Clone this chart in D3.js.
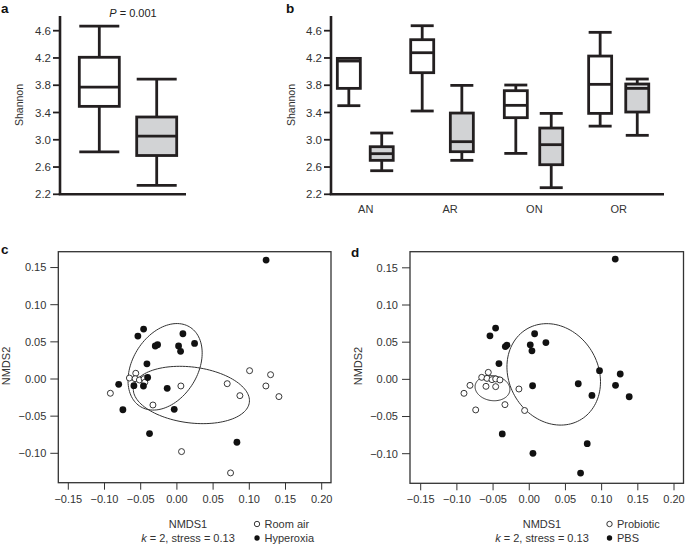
<!DOCTYPE html>
<html><head><meta charset="utf-8">
<script src="https://cdn.jsdelivr.net/npm/d3@7"></script>
<style>
html,body{margin:0;padding:0;background:#fff;}
svg{display:block;font-family:"Liberation Sans",Arial,Helvetica,sans-serif;}
</style></head>
<body>
<svg id="chart" width="685" height="547"></svg>
<script>
// ---------- DATA ----------
const shannonTicks = [2.2, 2.6, 3.0, 3.4, 3.8, 4.2, 4.6];
// panel a: Room air (white) vs Hyperoxia (grey)
const boxA = [
  {min: 2.823, q1: 3.49, median: 3.772, q3: 4.21, max: 4.668},
  {min: 2.331, q1: 2.769, median: 3.052, q3: 3.334, max: 3.889}
];
const boxAAt = [1, 2];
const pText = "0.001";
// panel b
const categoriesB = ["AN", "AR", "ON", "OR"];
const boxB = [
  {min: 3.50, q1: 3.754, median: 4.155, q3: 4.194, max: 4.194},
  {min: 2.546, q1: 2.698, median: 2.796, q3: 2.898, max: 3.099},
  {min: 3.422, q1: 3.984, median: 4.277, q3: 4.468, max: 4.673},
  {min: 2.698, q1: 2.825, median: 2.972, q3: 3.392, max: 3.798},
  {min: 2.80, q1: 3.324, median: 3.505, q3: 3.72, max: 3.803},
  {min: 2.297, q1: 2.634, median: 2.928, q3: 3.172, max: 3.387},
  {min: 3.20, q1: 3.387, median: 3.813, q3: 4.228, max: 4.576},
  {min: 3.065, q1: 3.407, median: 3.754, q3: 3.818, max: 3.891}
];
const boxBAt = [0.80, 1.19, 1.67, 2.14, 2.78, 3.20, 3.78, 4.22];

// NMDS
const nmdsXTicks = [-0.15, -0.10, -0.05, 0.00, 0.05, 0.10, 0.15, 0.20];
const nmdsYTicks = [-0.10, -0.05, 0.00, 0.05, 0.10, 0.15];
const roomAirC = [[-0.0568,0.0077],[-0.0656,0.0013],[-0.0577,0.0004],[-0.0518,-0.0013],[-0.0453,0.0004],[-0.0443,-0.0044],[-0.0919,-0.0192],[0.0055,-0.0094],[-0.0331,-0.035],[0.0695,-0.0063],[0.1004,0.0112],[0.087,-0.0224],[0.1294,0.0058],[0.1229,-0.0094],[0.1409,-0.0237],[0.0064,-0.0977],[0.0741,-0.1264]];
const hyperoxiaC = [[-0.046,0.0672],[-0.0539,0.0578],[-0.0299,0.0444],[-0.0267,0.0461],[0.0083,0.0609],[0.0023,0.0444],[0.0051,0.0372],[0.0244,0.0479],[-0.0414,0.0204],[-0.0404,0.0020],[-0.0804,-0.0072],[-0.0594,-0.009],[-0.0462,-0.0094],[-0.0134,-0.0125],[-0.0746,-0.0414],[-0.0037,-0.0408],[-0.0378,-0.0735],[0.0829,-0.0851],[0.1232,0.16]];
// ellipses: centre x, centre y, semi-axis a, semi-axis b, rotation (deg)
const ellipsesC = [
  {cx: -0.0163, cy: 0.0164, a: 0.0635, b: 0.0445, angle: 56},
  {cx: 0.0200, cy: -0.0215, a: 0.0807, b: 0.0376, angle: -7}
];
const probioticD = [[-0.0566,0.0094],[-0.0657,0.0027],[-0.0584,0.0013],[-0.0515,-0.0004],[-0.0464,0.0005],[-0.0405,-0.0008],[-0.0598,-0.0094],[-0.0464,-0.0098],[-0.0819,-0.0081],[-0.0902,-0.0188],[-0.074,-0.0411],[-0.0336,-0.034],[-0.0143,-0.013],[-0.0064,-0.0419]];
const pbsD = [[-0.0465,0.0689],[-0.0543,0.0586],[-0.0331,0.0441],[-0.0308,0.046],[0.0074,0.0613],[0.0014,0.0464],[0.0037,0.0383],[0.023,0.0495],[-0.0419,0.0212],[0.0971,0.0117],[0.1257,0.0072],[0.0046,-0.0086],[0.0677,-0.0059],[0.1192,-0.0081],[0.0866,-0.0216],[0.1381,-0.0234],[-0.0373,-0.0734],[0.0801,-0.0865],[0.0051,-0.0995],[0.0709,-0.1261],[0.1188,0.1618]];
const ellipsesD = [
  {cx: -0.0508, cy: -0.0118, a: 0.0242, b: 0.0168, angle: -8},
  {cx: 0.0338, cy: 0.0067, a: 0.0715, b: 0.0610, angle: -55}
];
const legendC = ["Room air", "Hyperoxia"];
const legendD = ["Probiotic", "PBS"];

// ---------- DRAW ----------
const svg = d3.select("#chart");
const ink = "#231f20";
const greyFill = "#d2d3d5";
const minus = s => s.replace("-", "\u2212");

function panelLabel(t, x, y) {
  svg.append("text").attr("x", x).attr("y", y).attr("font-size", 13.5)
    .attr("font-weight", "bold").attr("fill", "#111").text(t);
}

function shannonAxis(x0, y, axisTop, x1) {
  const g = svg.append("g");
  g.append("line").attr("x1", x0).attr("x2", x0).attr("y1", y(2.2)).attr("y2", axisTop)
    .attr("stroke", ink).attr("stroke-width", 2.6);
  g.append("line").attr("x1", x0 - 1.3).attr("x2", x1).attr("y1", y(2.2)).attr("y2", y(2.2))
    .attr("stroke", ink).attr("stroke-width", 2.6);
  shannonTicks.forEach(t => {
    g.append("line").attr("x1", x0 - 7).attr("x2", x0).attr("y1", y(t)).attr("y2", y(t))
      .attr("stroke", ink).attr("stroke-width", 1.8);
    g.append("text").attr("x", x0 - 9).attr("y", y(t)).attr("dy", "0.35em")
      .attr("text-anchor", "end").attr("font-size", 11.5).attr("fill", "#333").text(t.toFixed(1));
  });
}

function drawBoxes(data, at, x, y, w) {
  data.forEach((d, i) => {
    const cx = x(at[i]);
    const g = svg.append("g").attr("stroke", ink).attr("stroke-width", 2.8);
    g.append("line").attr("x1", cx).attr("x2", cx).attr("y1", y(d.max)).attr("y2", y(d.q3));
    g.append("line").attr("x1", cx).attr("x2", cx).attr("y1", y(d.q1)).attr("y2", y(d.min));
    g.append("line").attr("x1", cx - w / 2).attr("x2", cx + w / 2).attr("y1", y(d.max)).attr("y2", y(d.max));
    g.append("line").attr("x1", cx - w / 2).attr("x2", cx + w / 2).attr("y1", y(d.min)).attr("y2", y(d.min));
    g.append("rect").attr("x", cx - w / 2).attr("y", y(d.q3)).attr("width", w)
      .attr("height", y(d.q1) - y(d.q3)).attr("fill", i % 2 ? greyFill : "#fff");
    g.append("line").attr("x1", cx - w / 2).attr("x2", cx + w / 2).attr("y1", y(d.median)).attr("y2", y(d.median));
  });
}

// Panel a
const yA = d3.scaleLinear().domain([2.2, 4.6]).range([194.3, 30.7]);
const xA = d3.scaleLinear().domain([1, 2]).range([99.3, 156.7]);
shannonAxis(60, yA, 16, 186);
drawBoxes(boxA, boxAAt, xA, yA, 40);
svg.append("text").attr("x", 23).attr("y", 105).attr("transform", "rotate(-90,23,105)")
  .attr("text-anchor", "middle").attr("font-size", 10.5).attr("fill", "#333").text("Shannon");
const pt = svg.append("text").attr("x", 133).attr("y", 17).attr("text-anchor", "middle")
  .attr("font-size", 11).attr("fill", "#222");
pt.append("tspan").attr("font-style", "italic").text("P");
pt.append("tspan").text(" = " + pText);
panelLabel("a", 1, 13);

// Panel b
const yB = yA;
const xB = d3.scaleLinear().domain([1, 4]).range([365.7, 618.7]);
shannonAxis(331, yB, 16, 664);
drawBoxes(boxB, boxBAt, xB, yB, 23);
categoriesB.forEach((c, i) => {
  svg.append("text").attr("x", xB(i + 1)).attr("y", 213).attr("text-anchor", "middle")
    .attr("font-size", 11).attr("fill", "#333").text(c);
});
svg.append("text").attr("transform", "rotate(-90,295,105)").attr("x", 295).attr("y", 105)
  .attr("text-anchor", "middle").attr("font-size", 10.5).attr("fill", "#333").text("Shannon");
panelLabel("b", 286, 13);

// NMDS panels
function nmdsPanel(opt) {
  const x = d3.scaleLinear().domain([-0.15, 0.20]).range(opt.xr);
  const y = d3.scaleLinear().domain([-0.10, 0.10]).range(opt.yr);
  const g = svg.append("g");
  g.append("rect").attr("x", opt.box[0]).attr("y", opt.box[1])
    .attr("width", opt.box[2] - opt.box[0]).attr("height", opt.box[3] - opt.box[1])
    .attr("fill", "none").attr("stroke", "#333").attr("stroke-width", 1.3);
  nmdsXTicks.forEach(t => {
    g.append("line").attr("x1", x(t)).attr("x2", x(t)).attr("y1", opt.box[3]).attr("y2", opt.box[3] + 7)
      .attr("stroke", "#333").attr("stroke-width", 1);
    g.append("text").attr("x", x(t)).attr("y", opt.box[3] + 20).attr("text-anchor", "middle")
      .attr("font-size", 11).attr("fill", "#333").text(minus(t.toFixed(2)));
  });
  nmdsYTicks.forEach(t => {
    g.append("line").attr("x1", opt.box[0] - 8).attr("x2", opt.box[0]).attr("y1", y(t)).attr("y2", y(t))
      .attr("stroke", "#333").attr("stroke-width", 1);
    g.append("text").attr("x", opt.box[0] - 12).attr("y", y(t)).attr("dy", "0.35em")
      .attr("text-anchor", "end").attr("font-size", 11).attr("fill", "#333").text(minus(t.toFixed(2)));
  });
  // ellipses
  opt.ellipses.forEach(e => {
    const th = e.angle * Math.PI / 180;
    const pts = d3.range(0, 361, 3).map(deg => {
      const t = deg * Math.PI / 180;
      const dx = e.a * Math.cos(t), dy = e.b * Math.sin(t);
      return [x(e.cx + dx * Math.cos(th) - dy * Math.sin(th)), y(e.cy + dx * Math.sin(th) + dy * Math.cos(th))];
    });
    g.append("path").attr("d", d3.line().curve(d3.curveLinearClosed)(pts))
      .attr("fill", "none").attr("stroke", "#333").attr("stroke-width", 1);
  });
  // points
  g.selectAll(null).data(opt.open).enter().append("circle")
    .attr("cx", d => x(d[0])).attr("cy", d => y(d[1])).attr("r", 3)
    .attr("fill", "#fff").attr("stroke", "#222").attr("stroke-width", 0.9);
  g.selectAll(null).data(opt.filled).enter().append("circle")
    .attr("cx", d => x(d[0])).attr("cy", d => y(d[1])).attr("r", 3.4)
    .attr("fill", "#111");
  // axis titles
  const cxT = opt.titleX;
  g.append("text").attr("x", cxT).attr("y", 528).attr("text-anchor", "middle")
    .attr("font-size", 11).attr("fill", "#333").text("NMDS1");
  const k = g.append("text").attr("x", cxT).attr("y", 542).attr("text-anchor", "middle")
    .attr("font-size", 11).attr("fill", "#333");
  k.append("tspan").attr("font-style", "italic").text("k");
  k.append("tspan").text(" = 2, stress = 0.13");
  g.append("text").attr("transform", `rotate(-90,${opt.ylabX},366)`).attr("x", opt.ylabX).attr("y", 366)
    .attr("text-anchor", "middle").attr("font-size", 11).attr("fill", "#333").text("NMDS2");
  // legend
  opt.legend.forEach((l, i) => {
    const ly = 524 + i * 14;
    g.append("circle").attr("cx", opt.legX).attr("cy", ly).attr("r", 2.7)
      .attr("fill", i ? "#111" : "#fff").attr("stroke", i ? "none" : "#222").attr("stroke-width", 0.9);
    g.append("text").attr("x", opt.legX + 7.5).attr("y", ly).attr("dy", "0.35em")
      .attr("font-size", 11).attr("fill", "#333").text(l);
  });
}

nmdsPanel({xr: [68.3, 321.7], yr: [453.3, 304.7], box: [58.3, 251.7, 331, 482.7],
  ellipses: ellipsesC, open: roomAirC, filled: hyperoxiaC, titleX: 188, ylabX: 10,
  legend: legendC, legX: 257});
nmdsPanel({xr: [420.7, 674], yr: [453.7, 305], box: [410, 251.7, 683.5, 483.3],
  ellipses: ellipsesD, open: probioticD, filled: pbsD, titleX: 542, ylabX: 362,
  legend: legendD, legX: 609.5});
panelLabel("c", 1, 254);
panelLabel("d", 351, 257);
</script>
</body></html>
